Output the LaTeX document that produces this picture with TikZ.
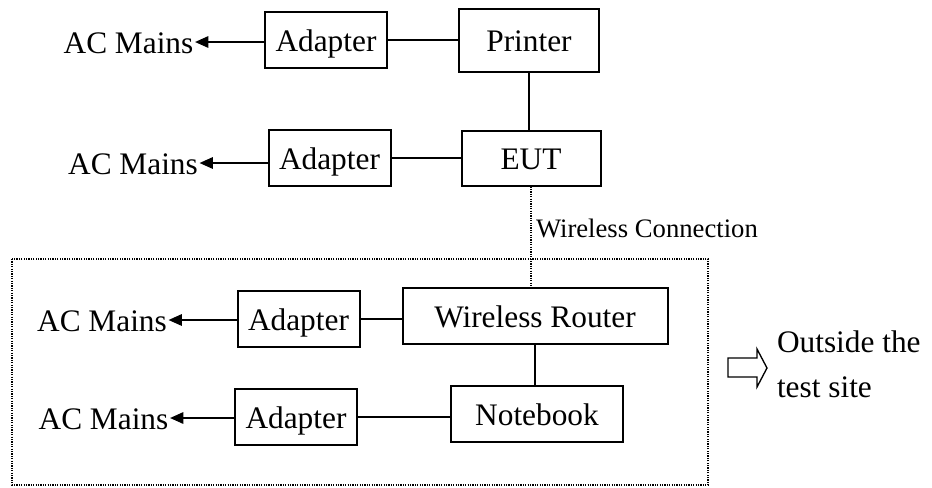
\documentclass[tikz,border=0pt]{standalone}
\usepackage{fontspec}
\setmainfont{Liberation Serif}
\usetikzlibrary{positioning,arrows.meta}

\begin{document}
\begin{tikzpicture}[x=0.75pt,y=-0.75pt,>={Triangle[length=10pt,width=8.5pt]},line width=1.5pt,
    unit/.style={draw,minimum height=42pt,inner sep=0pt,text height=17.6pt,text depth=0pt,font=\fontsize{23.5}{28}\selectfont},
    adapter node/.style={unit,minimum width=91.5pt},
    mains node/.style={inner sep=0.5pt,text height=17.6pt,text depth=0pt,font=\fontsize{23.5}{28}\selectfont},
    wifi/.style={line width=0.9pt,dash pattern=on 0.9pt off 0.9pt}]

    \useasboundingbox (0,0) rectangle (932,487);

    % devices
    \node[unit,minimum width=105pt,minimum height=47.25pt] (printer) at (529,40) {Printer};
    \node[unit,minimum width=104.25pt,minimum height=41.25pt] (eut) at (531,158) {EUT};
    \node[unit,minimum width=198.75pt] (router) at (535,316) {Wireless Router};
    \node[unit,minimum width=129pt] (notebook) at (537,414) {Notebook};

    % adapters
    \node[adapter node] (a1) [left=52.5pt of printer] {Adapter};
    \node[adapter node] (a2) [left=51.75pt of eut] {Adapter};
    \node[adapter node] (a3) [left=30.75pt of router, yshift=-2.25pt] {Adapter};
    \node[adapter node] (a4) [left=69pt of notebook, yshift=-2.25pt] {Adapter};

    % mains
    \node[mains node] (m1) [left=51.75pt of a1, yshift=-1.5pt] {AC Mains};
    \node[mains node] (m2) [left=51pt of a2, yshift=-3.75pt] {AC Mains};
    \node[mains node] (m3) [left=51pt of a3, yshift=-0.75pt] {AC Mains};
    \node[mains node] (m4) [left=48pt of a4, yshift=-0.75pt] {AC Mains};

    \path
        (a1) edge (printer)
        (a2) edge (eut)
        (a3.east) edge (a3.east -| router.west)
        (a4.east) edge (a4.east -| notebook.west)
        (printer.south) edge (printer.south |- eut.north)
        (router.south) edge (router.south |- notebook.north)
        (a1.west |- m1) edge[->] (m1)
        (a2.west |- m2) edge[->] (m2)
        (a3.west |- m3) edge[->] (m3)
        (a4.west |- m4) edge[->] (m4)
        (eut.south) edge[wifi] (eut.south |- router.north)
        ;

    % test site
    \draw[wifi] (12,259) rectangle (708,485);
    \node[font=\fontsize{20}{24}\selectfont,inner sep=0pt,anchor=west] (wlabel) at (535,228) {Wireless Connection};

    \draw[line width=1pt] (728,358) -- (757,358) -- (757,349) -- (767,368) -- (757,387) -- (757,377) -- (728,377) -- cycle;
    \node[font=\fontsize{23.5}{33.75}\selectfont,inner sep=0pt,anchor=west,align=left] (outside) at (776,364.7) {Outside the\\test site};
\end{tikzpicture}
\end{document}
